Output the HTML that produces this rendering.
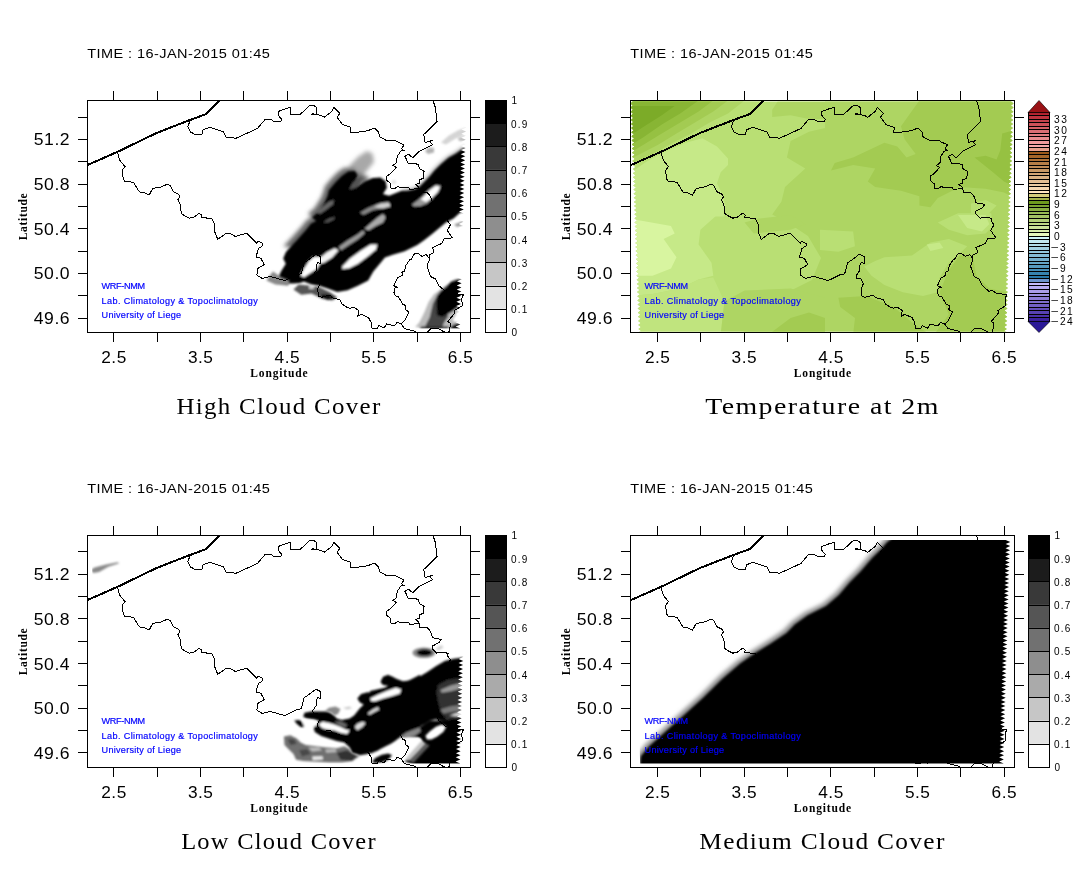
<!DOCTYPE html>
<html><head><meta charset="utf-8"><title>WRF-NMM cloud cover and temperature</title>
<style>
html,body{margin:0;padding:0;background:#fff;overflow:hidden;}
svg{display:block;}
.tk{font-family:"Liberation Sans",sans-serif;font-size:16.4px;fill:#000;letter-spacing:0.5px;}
.cb{font-family:"Liberation Sans",sans-serif;font-size:10px;fill:#000;}
.tc{font-family:"Liberation Sans",sans-serif;font-size:10.2px;fill:#000;}
.tm{font-family:"Liberation Sans",sans-serif;font-size:13.6px;fill:#000;letter-spacing:0.4px;}
.ax{font-family:"Liberation Serif",serif;font-weight:bold;font-size:11.5px;fill:#000;}
.tt{font-family:"Liberation Serif",serif;font-size:23px;fill:#000;letter-spacing:1.2px;}
.bl{font-family:"Liberation Sans",sans-serif;font-size:9.1px;fill:#0000ff;stroke:#0000ff;stroke-width:0.18px;}
</style></head><body>
<svg width="1087" height="869" viewBox="0 0 1087 869">
<defs>
<filter id="b1" x="-20%" y="-20%" width="140%" height="140%"><feGaussianBlur stdDeviation="1.3"/></filter>
<filter id="b2" x="-20%" y="-20%" width="140%" height="140%"><feGaussianBlur stdDeviation="2.2"/></filter>
<filter id="b3" x="-20%" y="-20%" width="140%" height="140%"><feGaussianBlur stdDeviation="0.8"/></filter>

<clipPath id="cclip"><polygon points="91.5,105 462.2,105 466.8,107 462.1,109.1 466.7,111.1 462,113.2 466.6,115.2 461.8,117.3 466.4,119.3 461.7,121.4 466.3,123.4 461.6,125.5 466.2,127.5 461.5,129.6 466.1,131.6 461.3,133.7 465.9,135.7 461.2,137.8 465.8,139.8 461.1,141.9 465.7,143.9 461,146 465.6,148 460.9,150.1 465.5,152.1 460.7,154.2 465.3,156.2 460.6,158.3 465.2,160.3 460.5,162.4 465.1,164.4 460.4,166.5 465,168.5 460.3,170.6 464.9,172.6 460.1,174.7 464.7,176.7 460,178.8 464.6,180.8 459.9,182.9 464.5,184.9 459.8,187 464.4,189 459.6,191.1 464.2,193.1 459.5,195.2 464.1,197.2 459.4,199.3 464,201.3 459.3,203.4 463.9,205.4 459.2,207.5 463.8,209.5 459,211.6 463.6,213.6 458.9,215.7 463.5,217.7 458.8,219.8 463.4,221.8 458.7,223.9 463.3,225.9 458.5,228 463.1,230 458.4,232.1 463,234.1 458.3,236.2 462.9,238.2 458.2,240.3 462.8,242.3 458.1,244.4 462.7,246.4 457.9,248.5 462.5,250.5 457.8,252.6 462.4,254.6 457.7,256.7 462.3,258.7 457.6,260.8 462.2,262.8 457.5,264.9 462.1,266.9 457.3,269 461.9,271 457.2,273.1 461.8,275.1 457.1,277.2 461.7,279.2 457,281.3 461.6,283.3 456.8,285.4 461.4,287.4 456.7,289.5 461.3,291.6 456.6,293.6 461.2,295.7 456.5,297.7 461.1,299.8 456.4,301.8 461,303.9 456.2,305.9 460.8,308 456.1,310 460.7,312.1 456,314.1 460.6,316.2 455.9,318.2 460.5,320.3 455.7,322.3 460.3,324.4 455.6,326.4 460.2,328.5 455.6,328.6 96.6,328.6"/></clipPath>
<filter id="b4" x="-5%" y="-5%" width="110%" height="110%"><feGaussianBlur stdDeviation="0.55"/></filter>
<mask id="cmask" maskUnits="userSpaceOnUse" x="80" y="95" width="400" height="245"><rect x="80" y="95" width="400" height="245" fill="#000"/><polygon points="91.5,105 462.2,105 466.8,107 462.1,109.1 466.7,111.1 462,113.2 466.6,115.2 461.8,117.3 466.4,119.3 461.7,121.4 466.3,123.4 461.6,125.5 466.2,127.5 461.5,129.6 466.1,131.6 461.3,133.7 465.9,135.7 461.2,137.8 465.8,139.8 461.1,141.9 465.7,143.9 461,146 465.6,148 460.9,150.1 465.5,152.1 460.7,154.2 465.3,156.2 460.6,158.3 465.2,160.3 460.5,162.4 465.1,164.4 460.4,166.5 465,168.5 460.3,170.6 464.9,172.6 460.1,174.7 464.7,176.7 460,178.8 464.6,180.8 459.9,182.9 464.5,184.9 459.8,187 464.4,189 459.6,191.1 464.2,193.1 459.5,195.2 464.1,197.2 459.4,199.3 464,201.3 459.3,203.4 463.9,205.4 459.2,207.5 463.8,209.5 459,211.6 463.6,213.6 458.9,215.7 463.5,217.7 458.8,219.8 463.4,221.8 458.7,223.9 463.3,225.9 458.5,228 463.1,230 458.4,232.1 463,234.1 458.3,236.2 462.9,238.2 458.2,240.3 462.8,242.3 458.1,244.4 462.7,246.4 457.9,248.5 462.5,250.5 457.8,252.6 462.4,254.6 457.7,256.7 462.3,258.7 457.6,260.8 462.2,262.8 457.5,264.9 462.1,266.9 457.3,269 461.9,271 457.2,273.1 461.8,275.1 457.1,277.2 461.7,279.2 457,281.3 461.6,283.3 456.8,285.4 461.4,287.4 456.7,289.5 461.3,291.6 456.6,293.6 461.2,295.7 456.5,297.7 461.1,299.8 456.4,301.8 461,303.9 456.2,305.9 460.8,308 456.1,310 460.7,312.1 456,314.1 460.6,316.2 455.9,318.2 460.5,320.3 455.7,322.3 460.3,324.4 455.6,326.4 460.2,328.5 455.6,328.6 96.6,328.6" fill="#fff" filter="url(#b4)"/></mask>
<clipPath id="tclip"><polygon points="1011,101.5 1013.6,103.5 1010.9,105.6 1013.5,107.6 1010.8,109.7 1013.4,111.7 1010.6,113.8 1013.2,115.8 1010.5,117.9 1013.1,119.9 1010.4,122 1013,124 1010.3,126.1 1012.9,128.1 1010.1,130.2 1012.7,132.2 1010,134.3 1012.6,136.3 1009.9,138.4 1012.5,140.4 1009.8,142.5 1012.4,144.5 1009.6,146.6 1012.2,148.6 1009.5,150.7 1012.1,152.7 1009.4,154.8 1012,156.8 1009.3,158.9 1011.9,160.9 1009.1,163 1011.7,165 1009,167.1 1011.6,169.1 1008.9,171.2 1011.5,173.2 1008.8,175.3 1011.4,177.3 1008.6,179.4 1011.2,181.4 1008.5,183.5 1011.1,185.5 1008.4,187.6 1011,189.6 1008.3,191.7 1010.9,193.7 1008.1,195.8 1010.7,197.8 1008,199.9 1010.6,201.9 1007.9,204 1010.5,206 1007.8,208.1 1010.4,210.1 1007.6,212.2 1010.2,214.2 1007.5,216.3 1010.1,218.3 1007.4,220.4 1010,222.4 1007.3,224.5 1009.9,226.5 1007.1,228.6 1009.7,230.6 1007,232.7 1009.6,234.7 1006.9,236.8 1009.5,238.8 1006.8,240.9 1009.4,242.9 1006.6,245 1009.2,247 1006.5,249.1 1009.1,251.1 1006.4,253.2 1009,255.2 1006.3,257.3 1008.9,259.3 1006.1,261.4 1008.7,263.4 1006,265.5 1008.6,267.5 1005.9,269.6 1008.5,271.6 1005.8,273.7 1008.4,275.7 1005.6,277.8 1008.2,279.8 1005.5,281.9 1008.1,283.9 1005.4,286 1008,288 1005.3,290.1 1007.9,292.1 1005.1,294.2 1007.7,296.2 1005,298.3 1007.6,300.4 1004.9,302.4 1007.5,304.5 1004.8,306.5 1007.4,308.6 1004.6,310.6 1007.2,312.7 1004.5,314.7 1007.1,316.8 1004.4,318.8 1007,320.9 1004.3,322.9 1006.9,325 1004.1,327 1006.7,329.1 1004,331.1 1006.6,331.5 1004,331.5 641.1,331.5 638.5,331.5 641.1,331.1 638.4,329.1 641,327 638.2,325 640.8,322.9 638.1,320.9 640.7,318.8 637.9,316.8 640.5,314.7 637.8,312.7 640.4,310.6 637.6,308.6 640.2,306.5 637.5,304.5 640.1,302.4 637.3,300.4 639.9,298.3 637.2,296.2 639.8,294.2 637,292.1 639.6,290.1 636.9,288 639.5,286 636.7,283.9 639.3,281.9 636.6,279.8 639.2,277.8 636.4,275.7 639,273.7 636.3,271.6 638.9,269.6 636.2,267.5 638.8,265.5 636,263.4 638.6,261.4 635.9,259.3 638.5,257.3 635.7,255.2 638.3,253.2 635.6,251.1 638.2,249.1 635.4,247 638,245 635.3,242.9 637.9,240.9 635.1,238.8 637.7,236.8 635,234.7 637.6,232.7 634.8,230.6 637.4,228.6 634.7,226.5 637.3,224.5 634.5,222.4 637.1,220.4 634.4,218.3 637,216.3 634.3,214.2 636.9,212.2 634.1,210.1 636.7,208.1 634,206 636.6,204 633.8,201.9 636.4,199.9 633.7,197.8 636.3,195.8 633.5,193.7 636.1,191.7 633.4,189.6 636,187.6 633.2,185.5 635.8,183.5 633.1,181.4 635.7,179.4 632.9,177.3 635.5,175.3 632.8,173.2 635.4,171.2 632.6,169.1 635.2,167.1 632.5,165 635.1,163 632.3,160.9 634.9,158.9 632.2,156.8 634.8,154.8 632.1,152.7 634.7,150.7 631.9,148.6 634.5,146.6 631.8,144.5 634.4,142.5 631.6,140.4 634.2,138.4 631.5,136.3 634.1,134.3 631.3,132.2 633.9,130.2 631.2,128.1 633.8,126.1 631,124 633.6,122 630.9,119.9 633.5,117.9 630.7,115.8 633.3,113.8 630.6,111.7 633.2,109.7 630.4,107.6 633,105.6 630.3,103.5 632.9,101.5"/></clipPath>
<g id="bord" fill="none" stroke="#000" shape-rendering="crispEdges" stroke-linejoin="round">
<path d="M87.1 165.2 L117.4 151.9 L156.3 133.1 L186.5 121.3 L206.4 114 L219.8 100.5" stroke-width="2"/>
<path d="M189.7 121.4 L187.9 126.7 L190.2 131.8 L194.8 134.3 L202 134.3 L203.1 129.7 L209.5 127.3 L223.3 131.8 L226.1 137.3 L236.2 138.2 L257.4 128.5 L264.8 119.8 L270.8 119.5 L274 121.4 L280.9 121.4 L281.8 119.3 L278.1 115.2 L278.1 111.5 L286.5 108.5 L290.6 107.4 L290.9 114.3 L300.3 114.3 L310 105.3 L313.7 105.3 L316.7 107.5 L316.7 114.7 L311.8 114.7 L312.1 113.6 L316.9 114.6 L321.5 115.7 L324.3 117.3 L331.6 111.5 L333.9 107.2 L339.9 113.6 L337 117 L342.7 124.7 L351 127.4 L350 132.2 L357.4 132.2 L367.5 130.8 L374.4 128.1 L378.6 132.2 L379.5 136.8 L386.5 140.5 L394.8 140.2 L398.5 142.4 L404 144.7 L401.7 148.8 L404 150.5 L400.8 151.1 L397.1 156.6 L396.6 162.6 L392.9 165.6 L396.2 167.4 L390.6 173.7 L386.5 176.4 L386.5 180 L390.6 183.7 L391.1 188.3 L395.2 188.3 L398 186.4 L400.3 187.8 L408.6 187.6 L409.5 189.2 L414.1 189 L419.2 188.3" stroke-width="1"/>
<path d="M433 100.5 L435.3 107.4 L437.1 121.4 L423.8 134.5 L425 142.4 L428.9 141.6 L432.1 140.3 L429.8 142 L432.4 144.7 L418.7 151.6 L412.7 157.8 L408.6 154.3 L404.9 156.2 L408.6 164 L414.1 163.5 L418.7 164.5 L419.2 168.6 L424.1 171.4 L423.3 178.3 L419 180 L419.2 183.5 L415 184.4 L418.3 186.6 L419.2 188.3" stroke-width="1"/>
<path d="M419.2 188.3 L420.1 192.9 L427 192.4 L430.7 196.6 L432.5 202.8 L441.3 204.4 L439 207.6 L432.1 211.3 L432.5 214.1 L436.7 218.2 L439.9 217.3 L448.2 218.2 L447.7 221 L450.5 224.7 L447.3 230.6 L452.3 237.6 L449.1 238.9 L444.5 238.5 L441.7 243.5 L432.1 247.7 L433.5 250 L433.9 252.7 L429.3 255 L429.1 258" stroke-width="1"/>
<path d="M429.1 258 L426.1 254.6 L421.9 256.4 L417.8 253.2 L414.1 254.1 L410.9 259.7 L409.5 260 L405.8 265.5 L404.5 271 L401.7 272.4 L402.6 275.2 L397.5 278 L393.9 285.8 L398 287.3 L394.8 288.1 L393.9 292.2 L395.2 295.9 L398.5 296.8 L402.6 304.2 L405.8 305.6 L405.4 309.7 L409.1 312 L404.5 320.8 L401.2 324" stroke-width="1"/>
<path d="M429.1 258 L429.3 260 L427 266 L430.7 276.6 L435.3 278.9 L439 285.8 L445.4 291.3 L449.1 290.4 L452.3 293.1 L463.4 294.8 L461.5 298.7 L462.5 305.6 L454.2 310.6 L455.1 312.9 L447.7 321.5 L450 323.1 L450 327.2 L448.9 332" stroke-width="1"/>
<path d="M427.5 332 L430.7 328.6 L438.1 328.6 L444.5 332" stroke-width="1"/>
<path d="M117.5 152 L118.3 155.7 L120.1 160.8 L125 166.5 L122 170.4 L123.3 179.2 L124.7 181.1 L133.5 182.3 L139.4 192 L143.6 192.4 L149.1 195.2 L152.6 188.5 L161.1 186.9 L167.5 184.1 L170.3 185.5 L173.1 191.5 L178.6 194.3 L180 197 L177.8 199.8 L180.4 204.9 L181.3 213.6 L184.1 215.5 L186.5 216.8 L189.3 218.2 L194.8 216.8 L198.9 213.1 L201.7 215 L201.2 217.8 L211.4 218.2 L214.6 224.2 L215 232.5 L217.8 239.4 L225.2 233.9 L229.8 233.4 L235.3 236.4 L246.8 233.2 L256.9 243.5 L258.1 241.2 L262.9 243.5 L262.5 245.8 L258.3 248.6 L256 257.3 L261.1 258.3 L261.7 260 L264.3 264.6 L257.4 268.7 L256.9 275.2 L262 278.4 L270.3 276.4 L284.1 280.4 L286.5 279.8 L296.6 274.7 L301.2 273.8 L304 262.8 L308.6 259.8 L316 254.1 L321 256.9 L320.7 263.2 L317.8 262.8 L316 266.4 L316.4 270.1 L312.7 275.7 L313.2 278.4 L317.3 278.9 L319.8 283.9 L317.8 288.5 L318.3 295.9 L321.5 297.3 L329.8 295 L332.5 297.8 L339.9 299.6 L342.2 304.2 L346.4 307 L350 308.3 L353.7 307.1 L358.8 310.6 L357.9 316.2 L361.1 314.3 L368.5 317.6 L371.2 322.6 L372.1 328.6 L377.2 328.6 L378.6 325.4 L384.1 328.1 L386.5 324 L390.2 324.9 L394.8 325.6 L397.1 322.4 L401.2 324 L404.5 328.6 L414.1 330.9 L416 332" stroke-width="1"/>
</g>
</defs>
<rect width="1087" height="869" fill="#fff"/>
<g id="p1"><g mask="url(#cmask)">
<g filter="url(#b2)"><polygon points="345,172.5 350.5,164.5 358.5,156.5 367,151 372.5,153.5 374,162 369.5,167.5 365.5,172.5 361.5,178 357.3,175 354.7,171" fill="#a8a8a8" /><polygon points="283.5,246.2 292.5,236.7 301.6,226.4 306.7,219.9 311.9,217.3 308,213.5 314.4,208.3 320.9,198 323.5,191.6 324.7,186.4 331.2,178.7 337.6,172.3 344.1,167.8 353.7,167.9 356.3,171.8 370,178 330,215 300,250" fill="#666" /><polygon points="400.8,189.6 407.2,189.6 413.5,188.3 418.6,185.8 423.6,180.7 428.7,175.6 433.8,169.3 440.1,163 447.7,156.6 455.3,152.2 461.6,147.8 471.2,144.8 462,160 420,200" fill="#999" /></g>
<g filter="url(#b1)"><polygon points="287.7,250 296.7,240.5 305.8,230.2 310.9,223.7 316.1,221.1 312.2,217.3 318.6,212.1 325.1,201.8 327.7,195.4 328.9,190.2 335.4,182.5 341.8,176.1 348.3,171.6 354.7,170.9 357.3,174.8 356,179.9 352.1,185.1 349.6,188.9 357.3,186.4 365,181.2 372.7,178 380.5,177.4 385.6,181.2 386.9,187.7 383,194.1 389,195.8 395.3,193.3 401.6,190.8 408,190.8 414.3,189.5 419.4,187 424.4,181.9 429.5,176.8 434.6,170.5 440.9,164.2 448.5,157.8 456.1,153.4 462.4,149 472,146 472,212.3 460.5,212.3 453.5,218.6 445.9,222.4 438.4,228.7 430.8,235.1 424.4,240 417.3,245 404.6,251.3 392.7,254.8 384.9,257.4 379.8,263.8 373.3,271.5 368.2,280.5 357.9,285.7 347.6,290.2 337.3,292.1 327,288.3 319.2,285.7 311.5,284.4 303.8,281.5 300,283 293,283.5 285,283.2 277.5,279.5 281,271.5 285.8,263.8 283.2,258.6 285.8,252.2" fill="#000" />
<polygon points="300.5,275.5 303.8,268.9 308.9,261.2 314.1,256.7 320.5,256.7 321.8,261.2 316.7,268.9 308.9,274.1 304,277.3" fill="#fff" />
<polygon points="320.5,257.4 327,252.2 334.7,248.3 338.6,250.3 332.1,257.4 324.4,262.5 320.5,263.8" fill="#f4f4f4" />
<polygon points="338.6,247 347.6,240.6 357.9,234.2 363,230.3 365,232.9 357.9,239.3 348.9,245.1 341.1,250.3" fill="#999" />
<polygon points="364.4,228.9 370.2,223.7 377.9,217.3 383,214.1 385.6,217.3 383,222.4 375.3,226.3 368.9,230.2" fill="#aaa" />
<polygon points="342.4,266.4 350.2,258.6 360.5,250.9 370.8,244.5 377.2,244.5 375.9,249.6 368.2,256.1 357.9,263.8 348.9,268.3 342.4,268.9" fill="#fff" />
<polygon points="411.8,204.7 416.8,200.9 423.2,195.8 429.5,189.5 435.8,185.1 440.9,185.7 438.4,192 432,198.4 427,203.4 420.6,205.9 414.3,206.6" fill="#999" />
<polygon points="421,199.5 429.5,190.5 435.8,186 439.9,186.7 437.4,192 431,198.4 426,202" fill="#fff" />
<polygon points="359.9,212.8 367.6,208.3 377.9,203.8 388.2,201.8 390.8,205.7 383,208.3 372.7,210.2 363.7,214.7" fill="#888" />
<polygon points="374,207 381,203.4 389,203 390.3,206.5 382.7,208.5" fill="#d0d0d0" />
<polygon points="317.4,212.1 322.5,207 328.9,201.8 334.1,199.9 332.8,204.4 326.4,209.5 319.9,214.1" fill="#666" />
<polygon points="323.1,222.4 328.9,218.6 335.4,217 334.1,219.2 327.7,222.4" fill="#555" />
<polygon points="349.6,189.6 352.1,183.8 357.3,178.6 362.4,177.4 359.9,182.5 356,187.7" fill="#555" />
</g>
<g filter="url(#b1)">
<polygon points="293.5,289.6 298.6,284.4 311.5,285.7 319.2,287 329.6,292.1 337.3,297.3 332.1,300.5 321.8,298.6 311.5,293.4 301.2,294.7" fill="#555" />
<polygon points="321,294 330,294.5 335,298 328,300 322,298" fill="#111" />
<polygon points="309,286 314,286 314,289 309,289" fill="#ccc" />
<polygon points="266.4,280.5 272.9,271.5 280.6,276.7 289.6,280.5 288.3,285.7 275.5,284.4" fill="#888" />
<polygon points="441,142.5 448.5,135.8 458.6,130 468,127.5 468,133.5 456.1,138.3 445.9,144.6" fill="#d4d4d4" />
<polygon points="425,151 429,147.5 434,148 434,152.5 428,154" fill="#b0b0b0" />
<polygon points="392,180.5 396,180.5 396,183.5 392,183.5" fill="#ddd" />
<polygon points="454,224.5 466,220 466,224 457,227" fill="#999" />
<polygon points="458,138 468,136 468,141 459,141" fill="#bbb" />
<polygon points="454.5,279.5 442.1,288.3 433.8,294.5 428.7,301.8 424.5,312.1 419.3,322.5 415.2,327.1 426.6,328.2 438,327.6 446.3,328.7 465.9,328.7 465.9,322.5 456.6,322.5 452.5,320.4 458.7,310 465.9,301.8 465.9,280" fill="#bbb" />
<polygon points="438,293.5 432.8,303.8 429.7,317.3 424.5,327.4 442.1,327.4 444.2,322.5 448.3,316.3" fill="#444" />
<polygon points="456.6,279.6 451.4,281.4 446.3,286.2 440,291.4 436.9,296.6 436.4,303.8 436.9,315.2 442.1,317.1 447.3,314.4 452.5,311.3 456.6,308.2 461.8,306.1 465.9,294.5 465.9,279.6" fill="#000" />
<polygon points="421.4,326.4 448.3,326.4 448.3,328.9 419.3,328.9" fill="#2a2a2a" />
<polygon points="449.4,328.4 452.5,325.3 457.6,323.1 465.9,323.1 465.9,329.3 450.4,329.3" fill="#111" />
</g>
</g>
<use href="#bord" transform="translate(0,0)"/>
<g stroke="#000" stroke-width="1" fill="none" shape-rendering="crispEdges">
<rect x="87.5" y="100.5" width="383" height="232"/>
<path d="M113.5 91V100M113.5 333V342M157.5 91V100M157.5 333V342M200.5 91V100M200.5 333V342M243.5 91V100M243.5 333V342M287.5 91V100M287.5 333V342M330.5 91V100M330.5 333V342M373.5 91V100M373.5 333V342M417.5 91V100M417.5 333V342M460.5 91V100M460.5 333V342M78 117.5H87M471 117.5H480M78 139.5H87M471 139.5H480M78 161.5H87M471 161.5H480M78 184.5H87M471 184.5H480M78 206.5H87M471 206.5H480M78 228.5H87M471 228.5H480M78 251.5H87M471 251.5H480M78 273.5H87M471 273.5H480M78 295.5H87M471 295.5H480M78 318.5H87M471 318.5H480"/></g>
<g>
<text class="tk" x="114.0" y="362.8" text-anchor="middle" textLength="25.6" lengthAdjust="spacingAndGlyphs">2.5</text>
<text class="tk" x="200.7" y="362.8" text-anchor="middle" textLength="25.6" lengthAdjust="spacingAndGlyphs">3.5</text>
<text class="tk" x="287.3" y="362.8" text-anchor="middle" textLength="25.6" lengthAdjust="spacingAndGlyphs">4.5</text>
<text class="tk" x="374.0" y="362.8" text-anchor="middle" textLength="25.6" lengthAdjust="spacingAndGlyphs">5.5</text>
<text class="tk" x="460.6" y="362.8" text-anchor="middle" textLength="25.6" lengthAdjust="spacingAndGlyphs">6.5</text>
<text class="tk" x="70.2" y="145.2" text-anchor="end" textLength="36.4" lengthAdjust="spacingAndGlyphs">51.2</text>
<text class="tk" x="70.2" y="189.9" text-anchor="end" textLength="36.4" lengthAdjust="spacingAndGlyphs">50.8</text>
<text class="tk" x="70.2" y="234.5" text-anchor="end" textLength="36.4" lengthAdjust="spacingAndGlyphs">50.4</text>
<text class="tk" x="70.2" y="279.2" text-anchor="end" textLength="36.4" lengthAdjust="spacingAndGlyphs">50.0</text>
<text class="tk" x="70.2" y="323.9" text-anchor="end" textLength="36.4" lengthAdjust="spacingAndGlyphs">49.6</text>
<text class="ax" x="279.0" y="377" text-anchor="middle" textLength="57.4">Longitude</text>
<text class="ax" transform="translate(26.799999999999997,216.8) rotate(-90)" text-anchor="middle" textLength="47">Latitude</text>
<text class="tm" x="87.2" y="57.7" textLength="183" lengthAdjust="spacingAndGlyphs">TIME : 16-JAN-2015 01:45</text>
<text class="bl" x="101.6" y="289.1" textLength="43.5">WRF-NMM</text>
<text class="bl" x="101.6" y="303.8" textLength="156.2">Lab. Climatology &amp; Topoclimatology</text>
<text class="bl" x="101.6" y="318.1" textLength="79.5">University of Liege</text>
<text class="tt" x="279.0" y="414" text-anchor="middle" textLength="205" lengthAdjust="spacingAndGlyphs">High Cloud Cover</text>
</g>
<g>
<rect x="485" y="100.00" width="22" height="23.70" fill="rgb(0,0,0)"/>
<rect x="485" y="123.20" width="22" height="23.70" fill="rgb(28,28,28)"/>
<rect x="485" y="146.40" width="22" height="23.70" fill="rgb(57,57,57)"/>
<rect x="485" y="169.60" width="22" height="23.70" fill="rgb(85,85,85)"/>
<rect x="485" y="192.80" width="22" height="23.70" fill="rgb(113,113,113)"/>
<rect x="485" y="216.00" width="22" height="23.70" fill="rgb(142,142,142)"/>
<rect x="485" y="239.20" width="22" height="23.70" fill="rgb(170,170,170)"/>
<rect x="485" y="262.40" width="22" height="23.70" fill="rgb(198,198,198)"/>
<rect x="485" y="285.60" width="22" height="23.70" fill="rgb(227,227,227)"/>
<rect x="485" y="308.80" width="22" height="23.70" fill="rgb(255,255,255)"/>
<path d="M485 123.5H507M485 146.5H507M485 170.5H507M485 193.5H507M485 216.5H507M485 239.5H507M485 262.5H507M485 286.5H507M485 309.5H507" stroke="#000" stroke-width="1" shape-rendering="crispEdges"/>
<rect x="485.5" y="100.5" width="21" height="232" fill="none" stroke="#000" shape-rendering="crispEdges"/>
<text class="cb" x="511.6" y="104.3">1</text>
<text class="cb" x="510.9" y="127.5" textLength="16.5">0.9</text>
<text class="cb" x="510.9" y="150.7" textLength="16.5">0.8</text>
<text class="cb" x="510.9" y="173.9" textLength="16.5">0.7</text>
<text class="cb" x="510.9" y="197.1" textLength="16.5">0.6</text>
<text class="cb" x="510.9" y="220.3" textLength="16.5">0.5</text>
<text class="cb" x="510.9" y="243.5" textLength="16.5">0.4</text>
<text class="cb" x="510.9" y="266.7" textLength="16.5">0.3</text>
<text class="cb" x="510.9" y="289.9" textLength="16.5">0.2</text>
<text class="cb" x="510.9" y="313.1" textLength="16.5">0.1</text>
<text class="cb" x="511.6" y="336.3">0</text>
</g>
</g>
<g id="p3"><g transform="translate(0,435)" mask="url(#cmask)">
<g filter="url(#b1)">
<polygon points="420,239.8 408.8,245.6 403.6,246.9 395.9,245.6 393.3,242.4 388.2,239.8 383,241.7 380.5,246.9 383,250.1 388.2,250.8 383,254 377.9,256.6 372.7,257.8 367.6,257.2 361.1,259.1 357.3,263.6 359.9,267.5 363.7,269.4 359.9,273.3 357.3,276.5 354.1,280.4 349.6,283.6 341.8,284.9 336.7,283.6 334.1,280.4 331.5,278.5 327.7,276.5 318.6,276.5 310.9,276.5 304.5,277.8 303.2,281.7 307,283.6 313.5,284.2 318.6,285.5 317.4,289.4 313.5,292 314.8,297.1 321.2,301 328.9,303.6 336.7,306.1 344.4,307.4 349.6,312.6 352.1,317.7 359.9,320.3 367.6,319 375.3,315.2 383,312.6 390.8,308.7 395.9,304.9 401.1,301 407.5,299.7 414,301 420,297.1" fill="#000" />
<polygon points="473.3,220 461.3,222.7 453.8,223.7 444.8,226 435.8,231.2 426.9,237.2 417.9,242.4 410.4,245.4 402.9,246.2 396.9,243.9 391,240.9 385,240.9 381.2,245.4 382,249.1 389.5,249.9 396.9,249.9 370,255.9 370,318.7 377.5,315.7 385,311.3 393.9,306.8 399.9,302.3 405.9,297.8 413.4,294.8 419.4,291.8 425.4,288.8 429.9,285.8 435.8,284.3 440.3,285.8 447.8,284.3 459.8,282.8 473.3,282.8" fill="#000" />
<polygon points="399.9,302.3 419.4,292.5 429.9,285.8 440.3,285.8 447.8,284.3 459.8,282.8 473.3,282.1 473.3,330.7 414.9,330 404.4,326.2 411.9,321.7 419.4,315.7 422.7,309.8 420.1,303 407.4,303.5" fill="#000" />
<polygon points="294.2,285.5 299.3,284.9 303.2,288.1 304.5,292 300.6,292 296.7,288.8" fill="#000" />
<polygon points="372.1,326.8 375.3,322.9 381.8,319.7 388.2,318.4 392.1,320.3 388.2,324.8 381.8,327.4 374,328" fill="#000" />
<polygon points="370.2,263.6 377.9,259.8 386.9,255.9 395.9,252.7 401.1,254.6 399.8,258.5 392.1,261.1 383,263.6 375.3,266.2 371.4,266.2" fill="#fff" />
<polygon points="367.6,278.5 372.7,274.6 377.9,272 379.2,274.6 374,277.2 369.5,279.7" fill="#ddd" />
<polygon points="302.5,288.1 305.8,285.5 312.2,286.2 317.4,288.1 316.1,290.7 309.6,292 304.5,290.7" fill="#fff" />
<polygon points="318.6,289.4 322.5,286.8 328.9,288.1 334.1,289.4 340.5,292 345.7,294.6 349.6,295.2 347,299.1 340.5,297.8 334.1,295.2 327.7,294.6 322.5,293.3" fill="#fff" />
<polygon points="354.7,292 357.3,288.8 362.4,286.8 365.7,288.1 362.4,292 357.3,295.2" fill="#ddd" />
<polygon points="334.1,286.8 340.5,286.2 347,289.4 345.7,292.6 339.2,290.7" fill="#666" />
<polygon points="438.1,249.9 447.8,244.7 473.3,241.7 473.3,282.8 459.8,282.8 447.8,284.3 442.6,279.8 438.8,269.4 436.6,257.4" fill="#333" />
<polygon points="440.3,255.1 450.8,250.6 461.3,248.1 473.3,246.9 473.3,251.7 461.3,253.2 450.8,256.2 441.8,257.7" fill="#999" />
<polygon points="440.3,274.6 450.8,271.3 473.3,268.6 473.3,274.1 450.8,277.1 443.3,278.6" fill="#7a7a7a" />
<polygon points="449.3,280.6 459.8,277.1 473.3,275.6 473.3,279.8 459.8,281.6" fill="#ddd" />
<polygon points="399.9,302.3 405.9,297.8 413.4,294.8 419.4,292.5 420.9,296.3 414.9,300.8 407.4,303" fill="#888" />
</g>
<g filter="url(#b1)">
<polygon points="325.1,275.9 328.9,272.7 335.4,271.4 340.5,273.9 338,279.1 334.1,280.4 331.5,277.8" fill="#888" />
<polygon points="343.1,272.7 349.6,271.4 352.1,273.3 347,274.6" fill="#ccc" />
<polygon points="283.9,301.6 290.3,300.3 296.7,303.6 300.6,307.4 305.8,310 316.1,311.3 326.4,312.6 336.7,313.2 344.4,311.3 349.6,313.9 352.1,319 359.9,321 352.1,326.1 341.8,327.4 328.9,327.4 316.1,326.8 303.2,326.1 296.1,324.8 293.5,319 288.4,313.9 284.5,310" fill="#707070" />
<polygon points="287.7,304.2 294.2,304.2 296.7,308.7 290.3,310" fill="#444" />
<polygon points="299.3,315.2 307,313.9 310.9,319 301.9,321.6" fill="#484848" />
<polygon points="336.7,317.7 347,315.2 357.3,321 352.1,326.1 340.5,324.8" fill="#333" />
<polygon points="308.3,312.6 318.6,312.6 322.5,315.2 312.2,316.4" fill="#bbb" />
<polygon points="312.2,321.6 322.5,321.3 323.1,324.4 312.8,324.9" fill="#eee" />
<polygon points="325.1,314.5 335.4,313.9 336.7,317.1 326.4,317.7" fill="#bbb" />
<polygon points="435.8,213.2 441.8,210.2 443.3,212.5 438.1,215.5" fill="#ccc" />
<ellipse cx="423.9" cy="217.7" rx="11.5" ry="5.3" fill="#888"/>
<ellipse cx="424.4" cy="217.7" rx="7.8" ry="3.4" fill="#000"/>
</g>
<g filter="url(#b3)">
<polygon points="425.4,300.8 429.9,296.3 435.8,291.8 441.8,289.6 446.3,291.8 443.3,297 437.3,301.5 431.4,304.5 426.9,304.5" fill="#fff" />
<polygon points="392.4,323.2 398.4,315.7 402.2,308.3 402.2,303.8 408.9,302.3 417.9,302.3 422.4,305.3 417.9,311.3 411.9,317.2 405.9,323.2 401.4,324.7" fill="#fff" />
<polygon points="421.6,305.6 425.7,308.3 409.2,325.5 405.2,324" fill="#c4c4c4" />
<polygon points="425.7,308.3 429.6,310.5 413.4,328 409.2,325.5" fill="#5a5a5a" />
<polygon points="90.5,135.2 94.5,132.4 106,129.5 117.5,127.2 119.3,128.3 108.3,131.8 99.1,137 93.4,138.1" fill="#888" />
</g>
</g>
<use href="#bord" transform="translate(0,435)"/>
<g stroke="#000" stroke-width="1" fill="none" shape-rendering="crispEdges">
<rect x="87.5" y="535.5" width="383" height="232"/>
<path d="M113.5 526V535M113.5 768V777M157.5 526V535M157.5 768V777M200.5 526V535M200.5 768V777M243.5 526V535M243.5 768V777M287.5 526V535M287.5 768V777M330.5 526V535M330.5 768V777M373.5 526V535M373.5 768V777M417.5 526V535M417.5 768V777M460.5 526V535M460.5 768V777M78 551.5H87M471 551.5H480M78 574.5H87M471 574.5H480M78 596.5H87M471 596.5H480M78 618.5H87M471 618.5H480M78 641.5H87M471 641.5H480M78 663.5H87M471 663.5H480M78 685.5H87M471 685.5H480M78 708.5H87M471 708.5H480M78 730.5H87M471 730.5H480M78 752.5H87M471 752.5H480"/></g>
<g>
<text class="tk" x="114.0" y="797.8" text-anchor="middle" textLength="25.6" lengthAdjust="spacingAndGlyphs">2.5</text>
<text class="tk" x="200.7" y="797.8" text-anchor="middle" textLength="25.6" lengthAdjust="spacingAndGlyphs">3.5</text>
<text class="tk" x="287.3" y="797.8" text-anchor="middle" textLength="25.6" lengthAdjust="spacingAndGlyphs">4.5</text>
<text class="tk" x="374.0" y="797.8" text-anchor="middle" textLength="25.6" lengthAdjust="spacingAndGlyphs">5.5</text>
<text class="tk" x="460.6" y="797.8" text-anchor="middle" textLength="25.6" lengthAdjust="spacingAndGlyphs">6.5</text>
<text class="tk" x="70.2" y="580.2" text-anchor="end" textLength="36.4" lengthAdjust="spacingAndGlyphs">51.2</text>
<text class="tk" x="70.2" y="624.9" text-anchor="end" textLength="36.4" lengthAdjust="spacingAndGlyphs">50.8</text>
<text class="tk" x="70.2" y="669.6" text-anchor="end" textLength="36.4" lengthAdjust="spacingAndGlyphs">50.4</text>
<text class="tk" x="70.2" y="714.2" text-anchor="end" textLength="36.4" lengthAdjust="spacingAndGlyphs">50.0</text>
<text class="tk" x="70.2" y="758.9" text-anchor="end" textLength="36.4" lengthAdjust="spacingAndGlyphs">49.6</text>
<text class="ax" x="279.0" y="812" text-anchor="middle" textLength="57.4">Longitude</text>
<text class="ax" transform="translate(26.799999999999997,651.8) rotate(-90)" text-anchor="middle" textLength="47">Latitude</text>
<text class="tm" x="87.2" y="492.7" textLength="183" lengthAdjust="spacingAndGlyphs">TIME : 16-JAN-2015 01:45</text>
<text class="bl" x="101.6" y="724.1" textLength="43.5">WRF-NMM</text>
<text class="bl" x="101.6" y="738.8" textLength="156.2">Lab. Climatology &amp; Topoclimatology</text>
<text class="bl" x="101.6" y="753.1" textLength="79.5">University of Liege</text>
<text class="tt" x="279.0" y="848.6" text-anchor="middle" textLength="195.7" lengthAdjust="spacingAndGlyphs">Low Cloud Cover</text>
</g>
<g>
<rect x="485" y="535.00" width="22" height="23.70" fill="rgb(0,0,0)"/>
<rect x="485" y="558.20" width="22" height="23.70" fill="rgb(28,28,28)"/>
<rect x="485" y="581.40" width="22" height="23.70" fill="rgb(57,57,57)"/>
<rect x="485" y="604.60" width="22" height="23.70" fill="rgb(85,85,85)"/>
<rect x="485" y="627.80" width="22" height="23.70" fill="rgb(113,113,113)"/>
<rect x="485" y="651.00" width="22" height="23.70" fill="rgb(142,142,142)"/>
<rect x="485" y="674.20" width="22" height="23.70" fill="rgb(170,170,170)"/>
<rect x="485" y="697.40" width="22" height="23.70" fill="rgb(198,198,198)"/>
<rect x="485" y="720.60" width="22" height="23.70" fill="rgb(227,227,227)"/>
<rect x="485" y="743.80" width="22" height="23.70" fill="rgb(255,255,255)"/>
<path d="M485 558.5H507M485 581.5H507M485 605.5H507M485 628.5H507M485 651.5H507M485 674.5H507M485 697.5H507M485 721.5H507M485 744.5H507" stroke="#000" stroke-width="1" shape-rendering="crispEdges"/>
<rect x="485.5" y="535.5" width="21" height="232" fill="none" stroke="#000" shape-rendering="crispEdges"/>
<text class="cb" x="511.6" y="539.3">1</text>
<text class="cb" x="510.9" y="562.5" textLength="16.5">0.9</text>
<text class="cb" x="510.9" y="585.7" textLength="16.5">0.8</text>
<text class="cb" x="510.9" y="608.9" textLength="16.5">0.7</text>
<text class="cb" x="510.9" y="632.1" textLength="16.5">0.6</text>
<text class="cb" x="510.9" y="655.3" textLength="16.5">0.5</text>
<text class="cb" x="510.9" y="678.5" textLength="16.5">0.4</text>
<text class="cb" x="510.9" y="701.7" textLength="16.5">0.3</text>
<text class="cb" x="510.9" y="724.9" textLength="16.5">0.2</text>
<text class="cb" x="510.9" y="748.1" textLength="16.5">0.1</text>
<text class="cb" x="511.6" y="771.3">0</text>
</g>
</g>
<g id="p4"><g transform="translate(543.5,435)" mask="url(#cmask)">
<g filter="url(#b2)"><polygon points="93.4,325.1 94.3,318.7 101.7,309.5 120.1,292.9 138.5,276.3 157,259.7 175.4,241.3 193.8,225.7 208.5,215.5 223.3,206.3 239.8,195.3 248,186.8 260.9,177.6 279.3,168.4 292.2,157.4 303.3,144.5 314.3,133.4 325.4,120.5 334.6,111.3 340.1,104.9 343.8,102 360,110 360,330 100,330" fill="#8c8c8c" /></g>
<g filter="url(#b1)"><polygon points="96.6,330 96.6,327.7 97.5,321.3 104.9,312.1 123.3,295.5 141.7,278.9 160.2,262.3 178.6,243.9 197,228.3 211.7,218.1 226.5,208.9 243,197.9 251.2,189.4 264.1,180.2 282.5,171 295.4,160 306.5,147.1 317.5,136 328.6,123.1 337.8,113.9 343.3,107.5 347,104.6 349.5,102 476.5,102 476.5,335 96.5,335" fill="#000" /></g>
</g>
<use href="#bord" transform="translate(543.5,435)"/>
<g stroke="#000" stroke-width="1" fill="none" shape-rendering="crispEdges">
<rect x="630.5" y="535.5" width="384" height="232"/>
<path d="M657.5 526V535M657.5 768V777M700.5 526V535M700.5 768V777M744.5 526V535M744.5 768V777M787.5 526V535M787.5 768V777M830.5 526V535M830.5 768V777M874.5 526V535M874.5 768V777M917.5 526V535M917.5 768V777M960.5 526V535M960.5 768V777M1004.5 526V535M1004.5 768V777M621 551.5H630M1015 551.5H1024M621 574.5H630M1015 574.5H1024M621 596.5H630M1015 596.5H1024M621 618.5H630M1015 618.5H1024M621 641.5H630M1015 641.5H1024M621 663.5H630M1015 663.5H1024M621 685.5H630M1015 685.5H1024M621 708.5H630M1015 708.5H1024M621 730.5H630M1015 730.5H1024M621 752.5H630M1015 752.5H1024"/></g>
<g>
<text class="tk" x="657.7" y="797.8" text-anchor="middle" textLength="25.6" lengthAdjust="spacingAndGlyphs">2.5</text>
<text class="tk" x="744.4" y="797.8" text-anchor="middle" textLength="25.6" lengthAdjust="spacingAndGlyphs">3.5</text>
<text class="tk" x="831.0" y="797.8" text-anchor="middle" textLength="25.6" lengthAdjust="spacingAndGlyphs">4.5</text>
<text class="tk" x="917.7" y="797.8" text-anchor="middle" textLength="25.6" lengthAdjust="spacingAndGlyphs">5.5</text>
<text class="tk" x="1004.3" y="797.8" text-anchor="middle" textLength="25.6" lengthAdjust="spacingAndGlyphs">6.5</text>
<text class="tk" x="613.2" y="580.2" text-anchor="end" textLength="36.4" lengthAdjust="spacingAndGlyphs">51.2</text>
<text class="tk" x="613.2" y="624.9" text-anchor="end" textLength="36.4" lengthAdjust="spacingAndGlyphs">50.8</text>
<text class="tk" x="613.2" y="669.6" text-anchor="end" textLength="36.4" lengthAdjust="spacingAndGlyphs">50.4</text>
<text class="tk" x="613.2" y="714.2" text-anchor="end" textLength="36.4" lengthAdjust="spacingAndGlyphs">50.0</text>
<text class="tk" x="613.2" y="758.9" text-anchor="end" textLength="36.4" lengthAdjust="spacingAndGlyphs">49.6</text>
<text class="ax" x="822.5" y="812" text-anchor="middle" textLength="57.4">Longitude</text>
<text class="ax" transform="translate(569.8,651.8) rotate(-90)" text-anchor="middle" textLength="47">Latitude</text>
<text class="tm" x="630.2" y="492.7" textLength="183" lengthAdjust="spacingAndGlyphs">TIME : 16-JAN-2015 01:45</text>
<text class="bl" x="644.6" y="724.1" textLength="43.5">WRF-NMM</text>
<text class="bl" x="644.6" y="738.8" textLength="156.2">Lab. Climatology &amp; Topoclimatology</text>
<text class="bl" x="644.6" y="753.1" textLength="79.5">University of Liege</text>
<text class="tt" x="822.5" y="848.6" text-anchor="middle" textLength="246.4" lengthAdjust="spacingAndGlyphs">Medium Cloud Cover</text>
</g>
<g>
<rect x="1028" y="535.00" width="22" height="23.70" fill="rgb(0,0,0)"/>
<rect x="1028" y="558.20" width="22" height="23.70" fill="rgb(28,28,28)"/>
<rect x="1028" y="581.40" width="22" height="23.70" fill="rgb(57,57,57)"/>
<rect x="1028" y="604.60" width="22" height="23.70" fill="rgb(85,85,85)"/>
<rect x="1028" y="627.80" width="22" height="23.70" fill="rgb(113,113,113)"/>
<rect x="1028" y="651.00" width="22" height="23.70" fill="rgb(142,142,142)"/>
<rect x="1028" y="674.20" width="22" height="23.70" fill="rgb(170,170,170)"/>
<rect x="1028" y="697.40" width="22" height="23.70" fill="rgb(198,198,198)"/>
<rect x="1028" y="720.60" width="22" height="23.70" fill="rgb(227,227,227)"/>
<rect x="1028" y="743.80" width="22" height="23.70" fill="rgb(255,255,255)"/>
<path d="M1028 558.5H1050M1028 581.5H1050M1028 605.5H1050M1028 628.5H1050M1028 651.5H1050M1028 674.5H1050M1028 697.5H1050M1028 721.5H1050M1028 744.5H1050" stroke="#000" stroke-width="1" shape-rendering="crispEdges"/>
<rect x="1028.5" y="535.5" width="21" height="232" fill="none" stroke="#000" shape-rendering="crispEdges"/>
<text class="cb" x="1054.6" y="539.3">1</text>
<text class="cb" x="1053.9" y="562.5" textLength="16.5">0.9</text>
<text class="cb" x="1053.9" y="585.7" textLength="16.5">0.8</text>
<text class="cb" x="1053.9" y="608.9" textLength="16.5">0.7</text>
<text class="cb" x="1053.9" y="632.1" textLength="16.5">0.6</text>
<text class="cb" x="1053.9" y="655.3" textLength="16.5">0.5</text>
<text class="cb" x="1053.9" y="678.5" textLength="16.5">0.4</text>
<text class="cb" x="1053.9" y="701.7" textLength="16.5">0.3</text>
<text class="cb" x="1053.9" y="724.9" textLength="16.5">0.2</text>
<text class="cb" x="1053.9" y="748.1" textLength="16.5">0.1</text>
<text class="cb" x="1054.6" y="771.3">0</text>
</g>
</g>
<g id="p2"><g clip-path="url(#tclip)">
<rect x="628" y="100" width="390" height="233" fill="#b9df74"/>
<polygon points="790.6,141 809,131.8 825,128.1 825,100.5 1030,100.5 1030,352 742,352 746,300 765,292 790,291 812,280 821,258 808,236 790,224 772.2,214.6 781.4,201.7 785,187 805.3,168.6 786.9,157.6" fill="#aed563" />
<polygon points="777.7,101.4 825,101.4 825,118.9 809,118.9 790.6,115.2 772.2,117.1 772.2,109.7" fill="#aed563" />
<polygon points="631.4,100.5 764.8,100.5 750.1,113.4 698.6,133.6 631.4,165.8" fill="#b9df74" />
<polygon points="631.4,100.5 744.6,100.5 728,113.4 709.6,122.6 691.2,133.6 672.8,142.8 652.6,153.9 631.4,164" fill="#aed563" />
<polygon points="631.4,100.5 728,100.5 713.3,111.6 694.9,122.6 676.5,133.6 658.1,144.7 631.4,158.5" fill="#a3cb52" />
<polygon points="631.4,100.5 713.3,100.5 698.6,111.6 680.2,122.6 661.8,133.6 643.4,144.7 631.4,152" fill="#96c142" />
<polygon points="631.4,100.5 698.6,100.5 680.2,113.4 661.8,124.4 643.4,137.3 631.4,144.7" fill="#88b534" />
<polygon points="631.4,106 674.7,106 661.8,115.2 647.1,124.4 636,131.8 631.4,133.6" fill="#7cab28" />
<polygon points="631.4,172.3 647.1,161.2 661.8,153 685.7,142.8 702.3,138.2 717,146.5 728,158.5 728,164.9 720.7,172.3 717,183.3 722.5,194.4 725.3,205.4 724.4,216.4 631.4,216.4" fill="#c6e988" />
<polygon points="630.5,215 717,215 700.4,229.7 698.6,244.4 711.5,262.8 713.3,275.7 698.6,279.4 680.2,288.6 652.6,294.1 630.5,296" fill="#c6e988" />
<polygon points="630.5,218.7 671,226 674.7,233.4 663.6,238.9 676.5,257.3 671,268.4 652.6,275.7 630.5,275.7" fill="#d8f5a0" />
<polygon points="630.5,296 652.6,294.1 680.2,288.6 698.6,279.4 713.3,277.6 724.4,301.5 720.7,334.6 630.5,334.6" fill="#c0e47e" />
<polygon points="744.6,222.4 757.5,218.7 790.6,215 805.3,224.2 790.6,229.7 772.2,231.6 753.8,233.4" fill="#aed563" />
<polygon points="724.4,301.5 744.6,290.4 790.6,288.6 825,297.8 825,334.6 720.7,334.6" fill="#aed563" />
<polygon points="790.6,318 809,312.5 825,318 825,334.6 768.5,334.6" fill="#a3cb52" />
<polygon points="919.4,100.5 1015,100.5 1015,198 1004,192.5 985.6,188.8 959.8,187 937.8,198 930.4,207.2 919.4,205.4 919.4,196.2 901,190.7 875.2,187 867.8,181.5 875.2,168.6 853.1,164.9 831,170.4 834.7,163.1 853.1,157.6 884.4,142.8 897.3,146.5 906.5,157.6 915.7,153.9 904.6,139.2 901,126.3" fill="#a3cb52" />
<polygon points="1002.2,133.6 1015,130 1015,187 1004,181.5 993,172.3 974.6,157.6 985.6,155.7 996.6,159.4 1000.3,150.2" fill="#96c142" />
<polygon points="970.9,203.6 985.6,199.9 996.6,205.4 985.6,216.4 970.9,216.4" fill="#b9df74" />
<polygon points="884.4,257.3 912,255.5 930.4,242.6 948.8,238.9 967.2,246.3 959.8,253.6 948.8,262.8 939.6,277.6 937.8,292.3 923,296 902.8,292.3 884.4,284.9 871.5,275.7 864.2,266.5 875.2,261" fill="#b9df74" />
<polygon points="926.7,244.4 939.6,242.6 943.3,248.1 930.4,250.9" fill="#c6e988" />
<polygon points="937.8,222.4 958,213.2 991.1,213.2 993,226 985.6,233.4 967.2,235.2 948.8,229.7" fill="#b9df74" />
<polygon points="958,215 985.6,215 989.3,224.2 981.9,231.6 967.2,227.9" fill="#c6e988" />
<polygon points="820,229.7 853.1,231.6 855,246.3 838.4,251.8 820,250" fill="#b9df74" />
<polygon points="838.4,297.8 866,296 893.6,307 915.7,325.4 930.4,334.6 853.1,334.6 855,318 840.2,307" fill="#a3cb52" />
<polygon points="948.8,270.2 959.8,255.5 972.7,257.3 976.4,275.7 989.3,288.6 1015,294.1 1015,334.6 934.1,334.6 948.8,314.4 939.6,292.3" fill="#a3cb52" />
</g>
<g id="tbar">
<rect x="1028" y="112.10" width="22" height="3.85" fill="#b82430"/>
<rect x="1028" y="115.65" width="22" height="3.85" fill="#bf333e"/>
<rect x="1028" y="119.19" width="22" height="3.85" fill="#c6424b"/>
<rect x="1028" y="122.74" width="22" height="3.85" fill="#cd5159"/>
<rect x="1028" y="126.29" width="22" height="3.85" fill="#d46066"/>
<rect x="1028" y="129.84" width="22" height="3.85" fill="#da6e74"/>
<rect x="1028" y="133.38" width="22" height="3.85" fill="#e17d81"/>
<rect x="1028" y="136.93" width="22" height="3.85" fill="#e88c8f"/>
<rect x="1028" y="140.48" width="22" height="3.85" fill="#ef9b9c"/>
<rect x="1028" y="144.03" width="22" height="3.85" fill="#f6aaaa"/>
<rect x="1028" y="147.57" width="22" height="3.85" fill="#e8a08c"/>
<rect x="1028" y="151.12" width="22" height="3.85" fill="#9c581a"/>
<rect x="1028" y="154.67" width="22" height="3.85" fill="#a56529"/>
<rect x="1028" y="158.22" width="22" height="3.85" fill="#ae7138"/>
<rect x="1028" y="161.76" width="22" height="3.85" fill="#b67e47"/>
<rect x="1028" y="165.31" width="22" height="3.85" fill="#bf8b56"/>
<rect x="1028" y="168.86" width="22" height="3.85" fill="#c89865"/>
<rect x="1028" y="172.41" width="22" height="3.85" fill="#d1a475"/>
<rect x="1028" y="175.95" width="22" height="3.85" fill="#dab184"/>
<rect x="1028" y="179.50" width="22" height="3.85" fill="#e3be93"/>
<rect x="1028" y="183.05" width="22" height="3.85" fill="#ebcba2"/>
<rect x="1028" y="186.60" width="22" height="3.85" fill="#f4d7b1"/>
<rect x="1028" y="190.14" width="22" height="3.85" fill="#fde4c0"/>
<rect x="1028" y="193.69" width="22" height="3.85" fill="#d4cc7c"/>
<rect x="1028" y="197.24" width="22" height="3.85" fill="#a4b44c"/>
<rect x="1028" y="200.79" width="22" height="3.85" fill="#6e9a1e"/>
<rect x="1028" y="204.33" width="22" height="3.85" fill="#7ba430"/>
<rect x="1028" y="207.88" width="22" height="3.85" fill="#89af41"/>
<rect x="1028" y="211.43" width="22" height="3.85" fill="#96b953"/>
<rect x="1028" y="214.98" width="22" height="3.85" fill="#a3c364"/>
<rect x="1028" y="218.52" width="22" height="3.85" fill="#b1ce76"/>
<rect x="1028" y="222.07" width="22" height="3.85" fill="#bed887"/>
<rect x="1028" y="225.62" width="22" height="3.85" fill="#cbe299"/>
<rect x="1028" y="229.17" width="22" height="3.85" fill="#d9edaa"/>
<rect x="1028" y="232.71" width="22" height="3.85" fill="#e6f7bc"/>
<rect x="1028" y="236.26" width="22" height="3.85" fill="#d0f4f8"/>
<rect x="1028" y="239.81" width="22" height="3.85" fill="#c1e9f1"/>
<rect x="1028" y="243.36" width="22" height="3.85" fill="#b1dde9"/>
<rect x="1028" y="246.90" width="22" height="3.85" fill="#a2d2e2"/>
<rect x="1028" y="250.45" width="22" height="3.85" fill="#93c7db"/>
<rect x="1028" y="254.00" width="22" height="3.85" fill="#84bcd4"/>
<rect x="1028" y="257.55" width="22" height="3.85" fill="#74b0cc"/>
<rect x="1028" y="261.09" width="22" height="3.85" fill="#65a5c5"/>
<rect x="1028" y="264.64" width="22" height="3.85" fill="#569abe"/>
<rect x="1028" y="268.19" width="22" height="3.85" fill="#478fb7"/>
<rect x="1028" y="271.74" width="22" height="3.85" fill="#3783af"/>
<rect x="1028" y="275.28" width="22" height="3.85" fill="#2878a8"/>
<rect x="1028" y="278.83" width="22" height="3.85" fill="#6c94cc"/>
<rect x="1028" y="282.38" width="22" height="3.85" fill="#c4bcfa"/>
<rect x="1028" y="285.93" width="22" height="3.85" fill="#b6adf1"/>
<rect x="1028" y="289.47" width="22" height="3.85" fill="#a99de8"/>
<rect x="1028" y="293.02" width="22" height="3.85" fill="#9b8edf"/>
<rect x="1028" y="296.57" width="22" height="3.85" fill="#8e7ed6"/>
<rect x="1028" y="300.12" width="22" height="3.85" fill="#806fcd"/>
<rect x="1028" y="303.66" width="22" height="3.85" fill="#7260c4"/>
<rect x="1028" y="307.21" width="22" height="3.85" fill="#6550bb"/>
<rect x="1028" y="310.76" width="22" height="3.85" fill="#5741b2"/>
<rect x="1028" y="314.31" width="22" height="3.85" fill="#4a31a9"/>
<rect x="1028" y="317.85" width="22" height="3.85" fill="#3c22a0"/>
<path d="M1028 112.5H1050M1028 115.5H1050M1028 119.5H1050M1028 122.5H1050M1028 126.5H1050M1028 129.5H1050M1028 133.5H1050M1028 136.5H1050M1028 140.5H1050M1028 144.5H1050M1028 147.5H1050M1028 151.5H1050M1028 154.5H1050M1028 158.5H1050M1028 161.5H1050M1028 165.5H1050M1028 168.5H1050M1028 172.5H1050M1028 175.5H1050M1028 179.5H1050M1028 183.5H1050M1028 186.5H1050M1028 190.5H1050M1028 193.5H1050M1028 197.5H1050M1028 200.5H1050M1028 204.5H1050M1028 207.5H1050M1028 211.5H1050M1028 214.5H1050M1028 218.5H1050M1028 222.5H1050M1028 225.5H1050M1028 229.5H1050M1028 232.5H1050M1028 236.5H1050M1028 239.5H1050M1028 243.5H1050M1028 246.5H1050M1028 250.5H1050M1028 253.5H1050M1028 257.5H1050M1028 261.5H1050M1028 264.5H1050M1028 268.5H1050M1028 271.5H1050M1028 275.5H1050M1028 278.5H1050M1028 282.5H1050M1028 285.5H1050M1028 289.5H1050M1028 293.5H1050M1028 296.5H1050M1028 300.5H1050M1028 303.5H1050M1028 307.5H1050M1028 310.5H1050M1028 314.5H1050M1028 317.5H1050M1028 321.5H1050" stroke="#000" stroke-width="1" shape-rendering="crispEdges"/>
<path d="M1028.5 112.1V321.4M1049.5 112.1V321.4" stroke="#000" stroke-width="1" shape-rendering="crispEdges"/>
<polygon points="1028,112.6 1039.0,100.5 1050,112.6" fill="#9a1216" stroke="#000" stroke-width="0.6"/>
<polygon points="1028,321.4 1039.0,332.5 1050,321.4" fill="#2a1898" stroke="#000" stroke-width="0.6"/>
<text class="tc" x="1054.1" y="122.9" textLength="12.7">33</text>
<text class="tc" x="1054.1" y="133.5" textLength="12.7">30</text>
<text class="tc" x="1054.1" y="144.2" textLength="12.7">27</text>
<text class="tc" x="1054.1" y="154.8" textLength="12.7">24</text>
<text class="tc" x="1054.1" y="165.5" textLength="12.7">21</text>
<text class="tc" x="1054.1" y="176.1" textLength="12.7">18</text>
<text class="tc" x="1054.1" y="186.7" textLength="12.7">15</text>
<text class="tc" x="1054.1" y="197.4" textLength="12.7">12</text>
<text class="tc" x="1054.1" y="208.0" textLength="6">9</text>
<text class="tc" x="1054.1" y="218.7" textLength="6">6</text>
<text class="tc" x="1054.1" y="229.3" textLength="6">3</text>
<text class="tc" x="1054.1" y="240.0" textLength="6">0</text>
<text class="tc" y="250.6"><tspan x="1051" textLength="8" lengthAdjust="spacingAndGlyphs">−</tspan><tspan x="1060" textLength="6">3</tspan></text>
<text class="tc" y="261.2"><tspan x="1051" textLength="8" lengthAdjust="spacingAndGlyphs">−</tspan><tspan x="1060" textLength="6">6</tspan></text>
<text class="tc" y="271.9"><tspan x="1051" textLength="8" lengthAdjust="spacingAndGlyphs">−</tspan><tspan x="1060" textLength="6">9</tspan></text>
<text class="tc" y="282.5"><tspan x="1051" textLength="8" lengthAdjust="spacingAndGlyphs">−</tspan><tspan x="1060" textLength="12.7">12</tspan></text>
<text class="tc" y="293.2"><tspan x="1051" textLength="8" lengthAdjust="spacingAndGlyphs">−</tspan><tspan x="1060" textLength="12.7">15</tspan></text>
<text class="tc" y="303.8"><tspan x="1051" textLength="8" lengthAdjust="spacingAndGlyphs">−</tspan><tspan x="1060" textLength="12.7">18</tspan></text>
<text class="tc" y="314.5"><tspan x="1051" textLength="8" lengthAdjust="spacingAndGlyphs">−</tspan><tspan x="1060" textLength="12.7">21</tspan></text>
<text class="tc" y="325.1"><tspan x="1051" textLength="8" lengthAdjust="spacingAndGlyphs">−</tspan><tspan x="1060" textLength="12.7">24</tspan></text>
</g>
<use href="#bord" transform="translate(543.5,0)"/>
<g stroke="#000" stroke-width="1" fill="none" shape-rendering="crispEdges">
<rect x="630.5" y="100.5" width="384" height="232"/>
<path d="M657.5 91V100M657.5 333V342M700.5 91V100M700.5 333V342M744.5 91V100M744.5 333V342M787.5 91V100M787.5 333V342M830.5 91V100M830.5 333V342M874.5 91V100M874.5 333V342M917.5 91V100M917.5 333V342M960.5 91V100M960.5 333V342M1004.5 91V100M1004.5 333V342M621 117.5H630M1015 117.5H1024M621 139.5H630M1015 139.5H1024M621 161.5H630M1015 161.5H1024M621 184.5H630M1015 184.5H1024M621 206.5H630M1015 206.5H1024M621 228.5H630M1015 228.5H1024M621 251.5H630M1015 251.5H1024M621 273.5H630M1015 273.5H1024M621 295.5H630M1015 295.5H1024M621 318.5H630M1015 318.5H1024"/></g>
<g>
<text class="tk" x="657.7" y="362.8" text-anchor="middle" textLength="25.6" lengthAdjust="spacingAndGlyphs">2.5</text>
<text class="tk" x="744.4" y="362.8" text-anchor="middle" textLength="25.6" lengthAdjust="spacingAndGlyphs">3.5</text>
<text class="tk" x="831.0" y="362.8" text-anchor="middle" textLength="25.6" lengthAdjust="spacingAndGlyphs">4.5</text>
<text class="tk" x="917.7" y="362.8" text-anchor="middle" textLength="25.6" lengthAdjust="spacingAndGlyphs">5.5</text>
<text class="tk" x="1004.3" y="362.8" text-anchor="middle" textLength="25.6" lengthAdjust="spacingAndGlyphs">6.5</text>
<text class="tk" x="613.2" y="145.2" text-anchor="end" textLength="36.4" lengthAdjust="spacingAndGlyphs">51.2</text>
<text class="tk" x="613.2" y="189.9" text-anchor="end" textLength="36.4" lengthAdjust="spacingAndGlyphs">50.8</text>
<text class="tk" x="613.2" y="234.5" text-anchor="end" textLength="36.4" lengthAdjust="spacingAndGlyphs">50.4</text>
<text class="tk" x="613.2" y="279.2" text-anchor="end" textLength="36.4" lengthAdjust="spacingAndGlyphs">50.0</text>
<text class="tk" x="613.2" y="323.9" text-anchor="end" textLength="36.4" lengthAdjust="spacingAndGlyphs">49.6</text>
<text class="ax" x="822.5" y="377" text-anchor="middle" textLength="57.4">Longitude</text>
<text class="ax" transform="translate(569.8,216.8) rotate(-90)" text-anchor="middle" textLength="47">Latitude</text>
<text class="tm" x="630.2" y="57.7" textLength="183" lengthAdjust="spacingAndGlyphs">TIME : 16-JAN-2015 01:45</text>
<text class="bl" x="644.6" y="289.1" textLength="43.5">WRF-NMM</text>
<text class="bl" x="644.6" y="303.8" textLength="156.2">Lab. Climatology &amp; Topoclimatology</text>
<text class="bl" x="644.6" y="318.1" textLength="79.5">University of Liege</text>
<text class="tt" x="822.5" y="414" text-anchor="middle" textLength="234.7" lengthAdjust="spacingAndGlyphs">Temperature at 2m</text>
</g>
</g>
</svg></body></html>
